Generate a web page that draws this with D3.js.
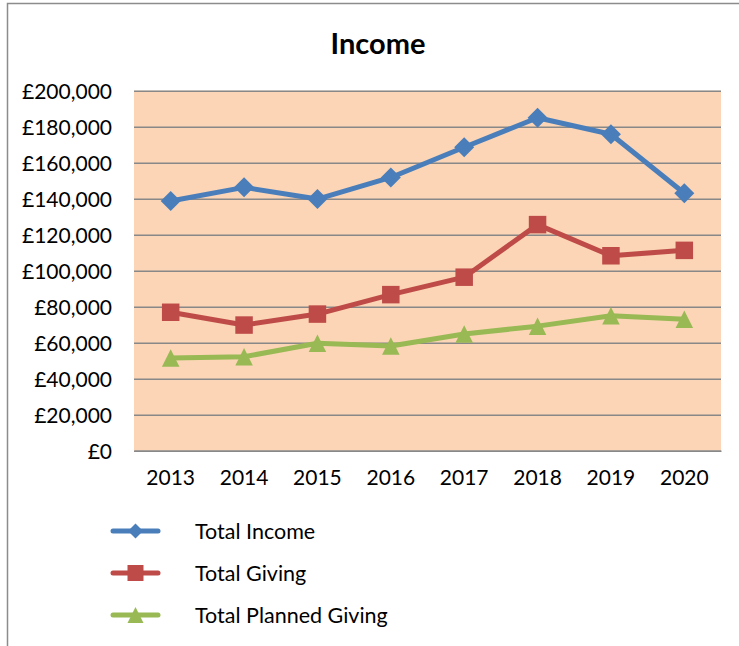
<!DOCTYPE html>
<html>
<head>
<meta charset="utf-8">
<script src="https://cdn.jsdelivr.net/npm/d3@7"></script>
<style>
  html, body { margin: 0; padding: 0; background: #ffffff; }
  svg { display: block; }
  text { font-family: Lato, "Open Sans", sans-serif; fill: #000; }
</style>
</head>
<body>
<svg id="chart" width="739" height="646"></svg>
<script>
// Income figures by year
const years = ["2013", "2014", "2015", "2016", "2017", "2018", "2019", "2020"];
const totalIncome = [138700, 146300, 139800, 151800, 168600, 185000, 175800, 143000];
const totalGiving = [76900, 69800, 75900, 86700, 96400, 125600, 108300, 111300];
const totalPlannedGiving = [51500, 52200, 59700, 58200, 64800, 69200, 75000, 73000];
const yTicks = [0, 20000, 40000, 60000, 80000, 100000, 120000, 140000, 160000, 180000, 200000];
const seriesNames = ["Total Income", "Total Giving", "Total Planned Giving"];

const series = [
  { name: seriesNames[0], values: totalIncome, color: "#4A7EBB", marker: "diamond" },
  { name: seriesNames[1], values: totalGiving, color: "#BE4B48", marker: "square" },
  { name: seriesNames[2], values: totalPlannedGiving, color: "#98B954", marker: "triangle" }
];

const svg = d3.select("#chart");
const plot = { left: 134, right: 721, top: 90.7, bottom: 450.7 };

const x = d3.scaleBand().domain(years).range([plot.left, plot.right]);
const y = d3.scaleLinear().domain([0, 200000]).range([plot.bottom, plot.top]);
const cx = d => x(d) + x.bandwidth() / 2;

// Outer chart frame
svg.append("rect")
  .attr("x", 7.5).attr("y", 3.5)
  .attr("width", 760).attr("height", 700)
  .attr("fill", "none").attr("stroke", "#8c8c8c").attr("stroke-width", 1.5);

// Title
svg.append("text")
  .attr("x", 378).attr("y", 54)
  .attr("text-anchor", "middle")
  .style("font-weight", "bold").style("font-size", "29px")
  .text("Income");

// Plot background
svg.append("rect")
  .attr("x", plot.left).attr("y", plot.top)
  .attr("width", plot.right - plot.left).attr("height", plot.bottom - plot.top)
  .attr("fill", "#FBD5B5");

// Horizontal gridlines and value axis labels
const fmt = v => "£" + d3.format(",")(v);
const yAxis = d3.axisLeft(y).tickValues(yTicks).tickFormat(fmt)
  .tickSize(-(plot.right - plot.left)).tickPadding(22);
const gy = svg.append("g").attr("transform", `translate(${plot.left},0)`).call(yAxis);
gy.select(".domain").remove();
gy.selectAll(".tick line").attr("stroke", "#888888").attr("stroke-width", 1.6);
gy.selectAll(".tick text")
  .style("font-size", "21px").style("font-family", "Lato, sans-serif")
  .attr("fill", "#000").attr("dy", "0.36em");

// Category axis labels
const xAxis = d3.axisBottom(x).tickSize(0).tickPadding(19);
const gx = svg.append("g").attr("transform", `translate(0,${plot.bottom})`).call(xAxis);
gx.select(".domain").attr("stroke", "#888888").attr("stroke-width", 1.6);
gx.selectAll(".tick text")
  .style("font-size", "21px").style("font-family", "Lato, sans-serif")
  .attr("fill", "#000");

// Marker shapes
function markerPath(type, s) {
  const h = s / 2;
  if (type === "diamond") return `M0,${-h}L${h},0L0,${h}L${-h},0Z`;
  if (type === "square") return `M${-h},${-h}H${h}V${h}H${-h}Z`;
  return `M0,${-h}L${h},${h}L${-h},${h}Z`;
}
const markerSize = { diamond: 20, square: 17.5, triangle: 17.5 };

const line = d3.line().x((d, i) => cx(years[i])).y(d => y(d));

series.forEach(s => {
  const g = svg.append("g");
  g.append("path")
    .attr("d", line(s.values))
    .attr("fill", "none").attr("stroke", s.color)
    .attr("stroke-width", 5).attr("stroke-linejoin", "round").attr("stroke-linecap", "round");
  g.selectAll("path.m").data(s.values).join("path")
    .attr("class", "m")
    .attr("transform", (d, i) => `translate(${cx(years[i])},${y(d)})`)
    .attr("d", markerPath(s.marker, markerSize[s.marker]))
    .attr("fill", s.color);
});

// Legend
const legendRows = [531, 573, 615];
series.forEach((s, i) => {
  const g = svg.append("g").attr("transform", `translate(0,${legendRows[i]})`);
  g.append("line")
    .attr("x1", 113).attr("x2", 158).attr("y1", 0).attr("y2", 0)
    .attr("stroke", s.color).attr("stroke-width", 5).attr("stroke-linecap", "round");
  g.append("path")
    .attr("transform", "translate(135.5,0)")
    .attr("d", markerPath(s.marker, s.marker === "diamond" ? 15 : 16))
    .attr("fill", s.color);
  g.append("text")
    .attr("x", 195).attr("y", 0).attr("dy", "0.36em")
    .style("font-size", "21.5px")
    .text(s.name);
});
</script>
</body>
</html>
